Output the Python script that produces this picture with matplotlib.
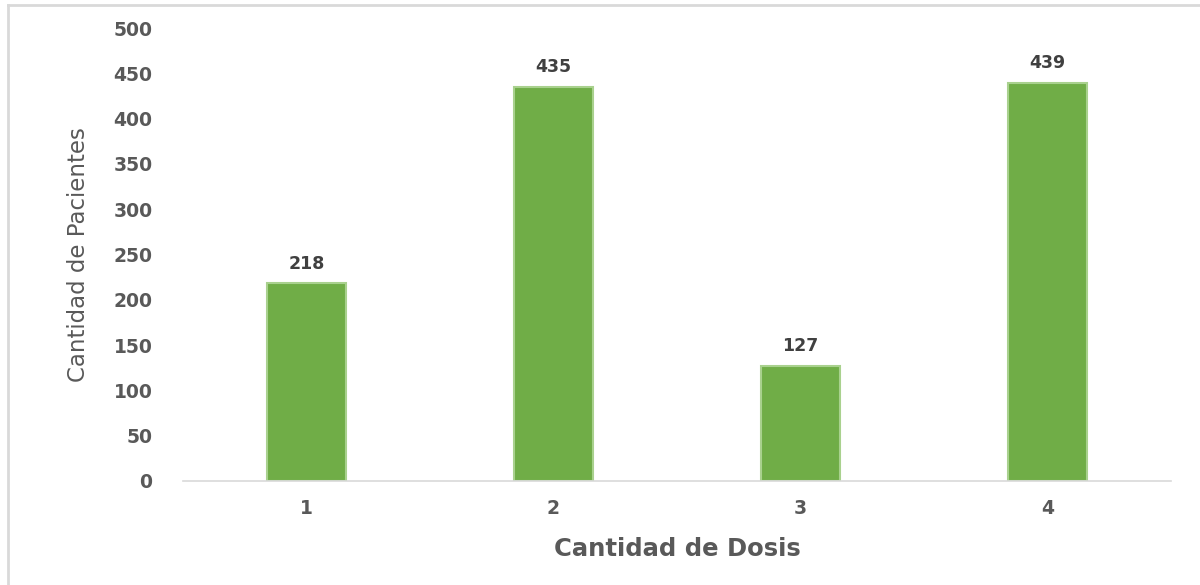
import matplotlib.pyplot as plt
from matplotlib.lines import Line2D

dosis = ["1", "2", "3", "4"]
pacientes = [218, 435, 127, 439]
yticks = [0, 50, 100, 150, 200, 250, 300, 350, 400, 450, 500]


def create_graph():
    fig = plt.figure(figsize=(12, 5.85), dpi=100)
    ax = fig.add_axes([183 / 1200, 1 - 481 / 585, 988 / 1200, 453 / 585])

    x = range(len(dosis))
    bars = ax.bar(x, pacientes, width=0.32, color="#70AD47",
                  edgecolor="#A9D18E", linewidth=1.5)

    for b, v in zip(bars, pacientes):
        ax.text(b.get_x() + b.get_width() / 2, v + 12, str(v),
                ha="center", va="bottom", fontsize=12.5, fontweight="bold",
                color="#404040")

    ax.set_xlim(-0.5, len(dosis) - 0.5)
    ax.set_ylim(0, 500)
    ax.set_yticks(yticks)
    ax.set_xticks(list(x))
    ax.set_xticklabels(dosis)
    ax.tick_params(length=0, labelsize=13.5, colors="#595959", pad=13)
    ax.tick_params(axis="y", pad=22)
    for lbl in ax.get_xticklabels() + ax.get_yticklabels():
        lbl.set_fontweight("bold")

    for s in ["top", "right", "left"]:
        ax.spines[s].set_visible(False)
    ax.spines["bottom"].set_color("#D9D9D9")
    ax.spines["bottom"].set_linewidth(1.2)

    ax.set_xlabel("Cantidad de Dosis", fontsize=17.5, fontweight="bold",
                  color="#595959", labelpad=14)
    ax.set_ylabel("Cantidad de Pacientes", fontsize=16.5, color="#595959",
                  labelpad=17)

    # outer frame (top and left edges only, as in the source)
    fig.add_artist(Line2D([8 / 1200, 1], [1 - 5 / 585, 1 - 5 / 585],
                          transform=fig.transFigure, color="#D9D9D9", lw=2))
    fig.add_artist(Line2D([8 / 1200, 8 / 1200], [0, 1 - 5 / 585],
                          transform=fig.transFigure, color="#D9D9D9", lw=2))

    fig.savefig("out.png")


if __name__ == "__main__":
    create_graph()
